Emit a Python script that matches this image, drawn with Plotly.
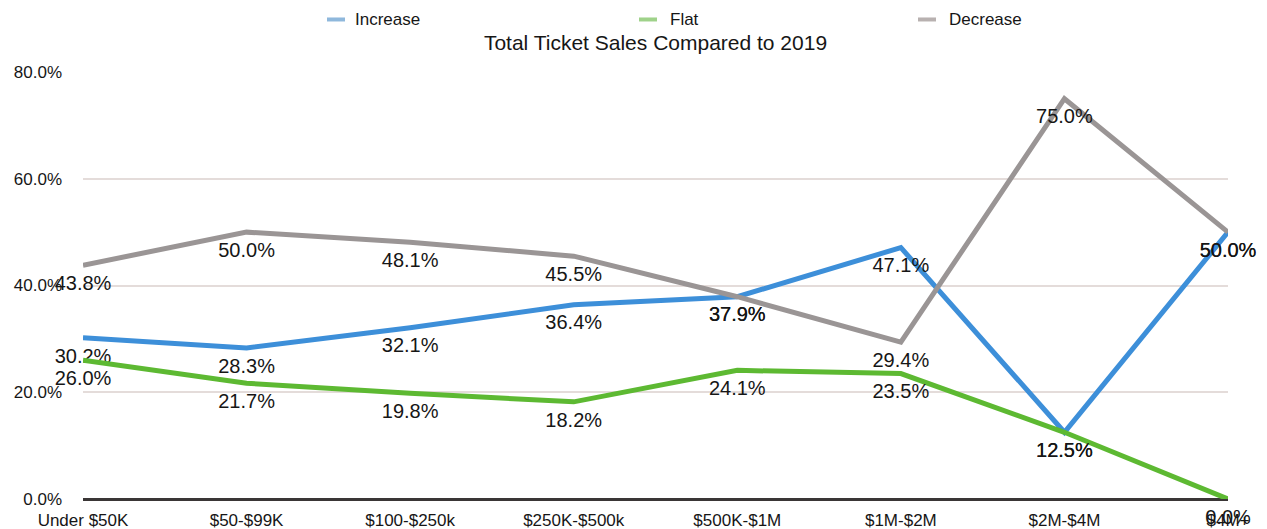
import plotly.graph_objects as go

# Revenue bands on the x axis
categories = ["Under $50K", "$50-$99K", "$100-$250k", "$250K-$500k",
              "$500K-$1M", "$1M-$2M", "$2M-$4M", "$4M+"]

# Share of respondents (%) per band
increase = [30.2, 28.3, 32.1, 36.4, 37.9, 47.1, 12.5, 50.0]
flat = [26.0, 21.7, 19.8, 18.2, 24.1, 23.5, 12.5, 0.0]
decrease = [43.8, 50.0, 48.1, 45.5, 37.9, 29.4, 75.0, 50.0]

series_names = ["Increase", "Flat", "Decrease"]
series_values = [increase, flat, decrease]
series_colors = ["#3d8fd9", "#5db932", "#9a9595"]
legend_colors = ["#8fb8dc", "#9fd28a", "#b8b1b0"]

y_ticks = [0, 20, 40, 60, 80]
y_tick_labels = [f"{v:.1f}%" for v in y_ticks]

FONT = "Liberation Sans, Arial, Helvetica, sans-serif"
TEXT_COLOR = "#161616"

fig = go.Figure()

for name, vals, color in zip(series_names, series_values, series_colors):
    fig.add_trace(go.Scatter(
        x=categories,
        y=vals,
        name=name,
        mode="lines+markers+text",
        line=dict(color=color, width=5),
        marker=dict(size=14, opacity=0, color=color),
        text=[f"{v:.1f}%" for v in vals],
        textposition="bottom center",
        textfont=dict(family=FONT, size=20, color=TEXT_COLOR),
        cliponaxis=False,
        showlegend=False,
        hoverinfo="x+y+name",
    ))

# Legend drawn across the top: short stroke + label for each series
left_px, right_px = 83, 1228
plot_w = right_px - left_px
legend_sym = [(327, 345), (639, 657), (918, 936)]
legend_text_x = [353, 668, 947]
legend_y = 1.123
for name, lc, (s0, s1), tx in zip(series_names, legend_colors, legend_sym, legend_text_x):
    fig.add_shape(type="line", xref="paper", yref="paper",
                  x0=(s0 - left_px) / plot_w, x1=(s1 - left_px) / plot_w,
                  y0=legend_y, y1=legend_y,
                  line=dict(color=lc, width=4))
    fig.add_annotation(xref="paper", yref="paper",
                       x=(tx - left_px) / plot_w, y=legend_y,
                       xanchor="left", yanchor="middle",
                       text=name, showarrow=False,
                       font=dict(family=FONT, size=17, color=TEXT_COLOR))

fig.update_layout(
    width=1267,
    height=529,
    margin=dict(l=83, r=39, t=72, b=30),
    paper_bgcolor="white",
    plot_bgcolor="white",
    title=dict(
        text="Total Ticket Sales Compared to 2019",
        x=0.5, xref="paper", xanchor="center",
        y=1 - 43 / 529, yref="container", yanchor="middle",
        font=dict(family=FONT, size=21, color=TEXT_COLOR),
    ),
    font=dict(family=FONT, color=TEXT_COLOR),
    xaxis=dict(
        type="category",
        range=[0, len(categories) - 1],
        showgrid=False,
        zeroline=False,
        showline=False,
        ticks="",
        ticklabelstandoff=9,
        automargin=False,
        tickfont=dict(family=FONT, size=17, color=TEXT_COLOR),
        fixedrange=True,
    ),
    yaxis=dict(
        range=[0, 80],
        tickvals=y_ticks,
        ticktext=y_tick_labels,
        showgrid=True,
        gridcolor="#e4dcda",
        gridwidth=1.5,
        zeroline=True,
        zerolinecolor="#3a3636",
        zerolinewidth=2.5,
        showline=False,
        ticks="",
        ticklabelstandoff=20,
        automargin=False,
        tickfont=dict(family=FONT, size=17, color=TEXT_COLOR),
        fixedrange=True,
    ),
)

fig.write_html("out.html")
